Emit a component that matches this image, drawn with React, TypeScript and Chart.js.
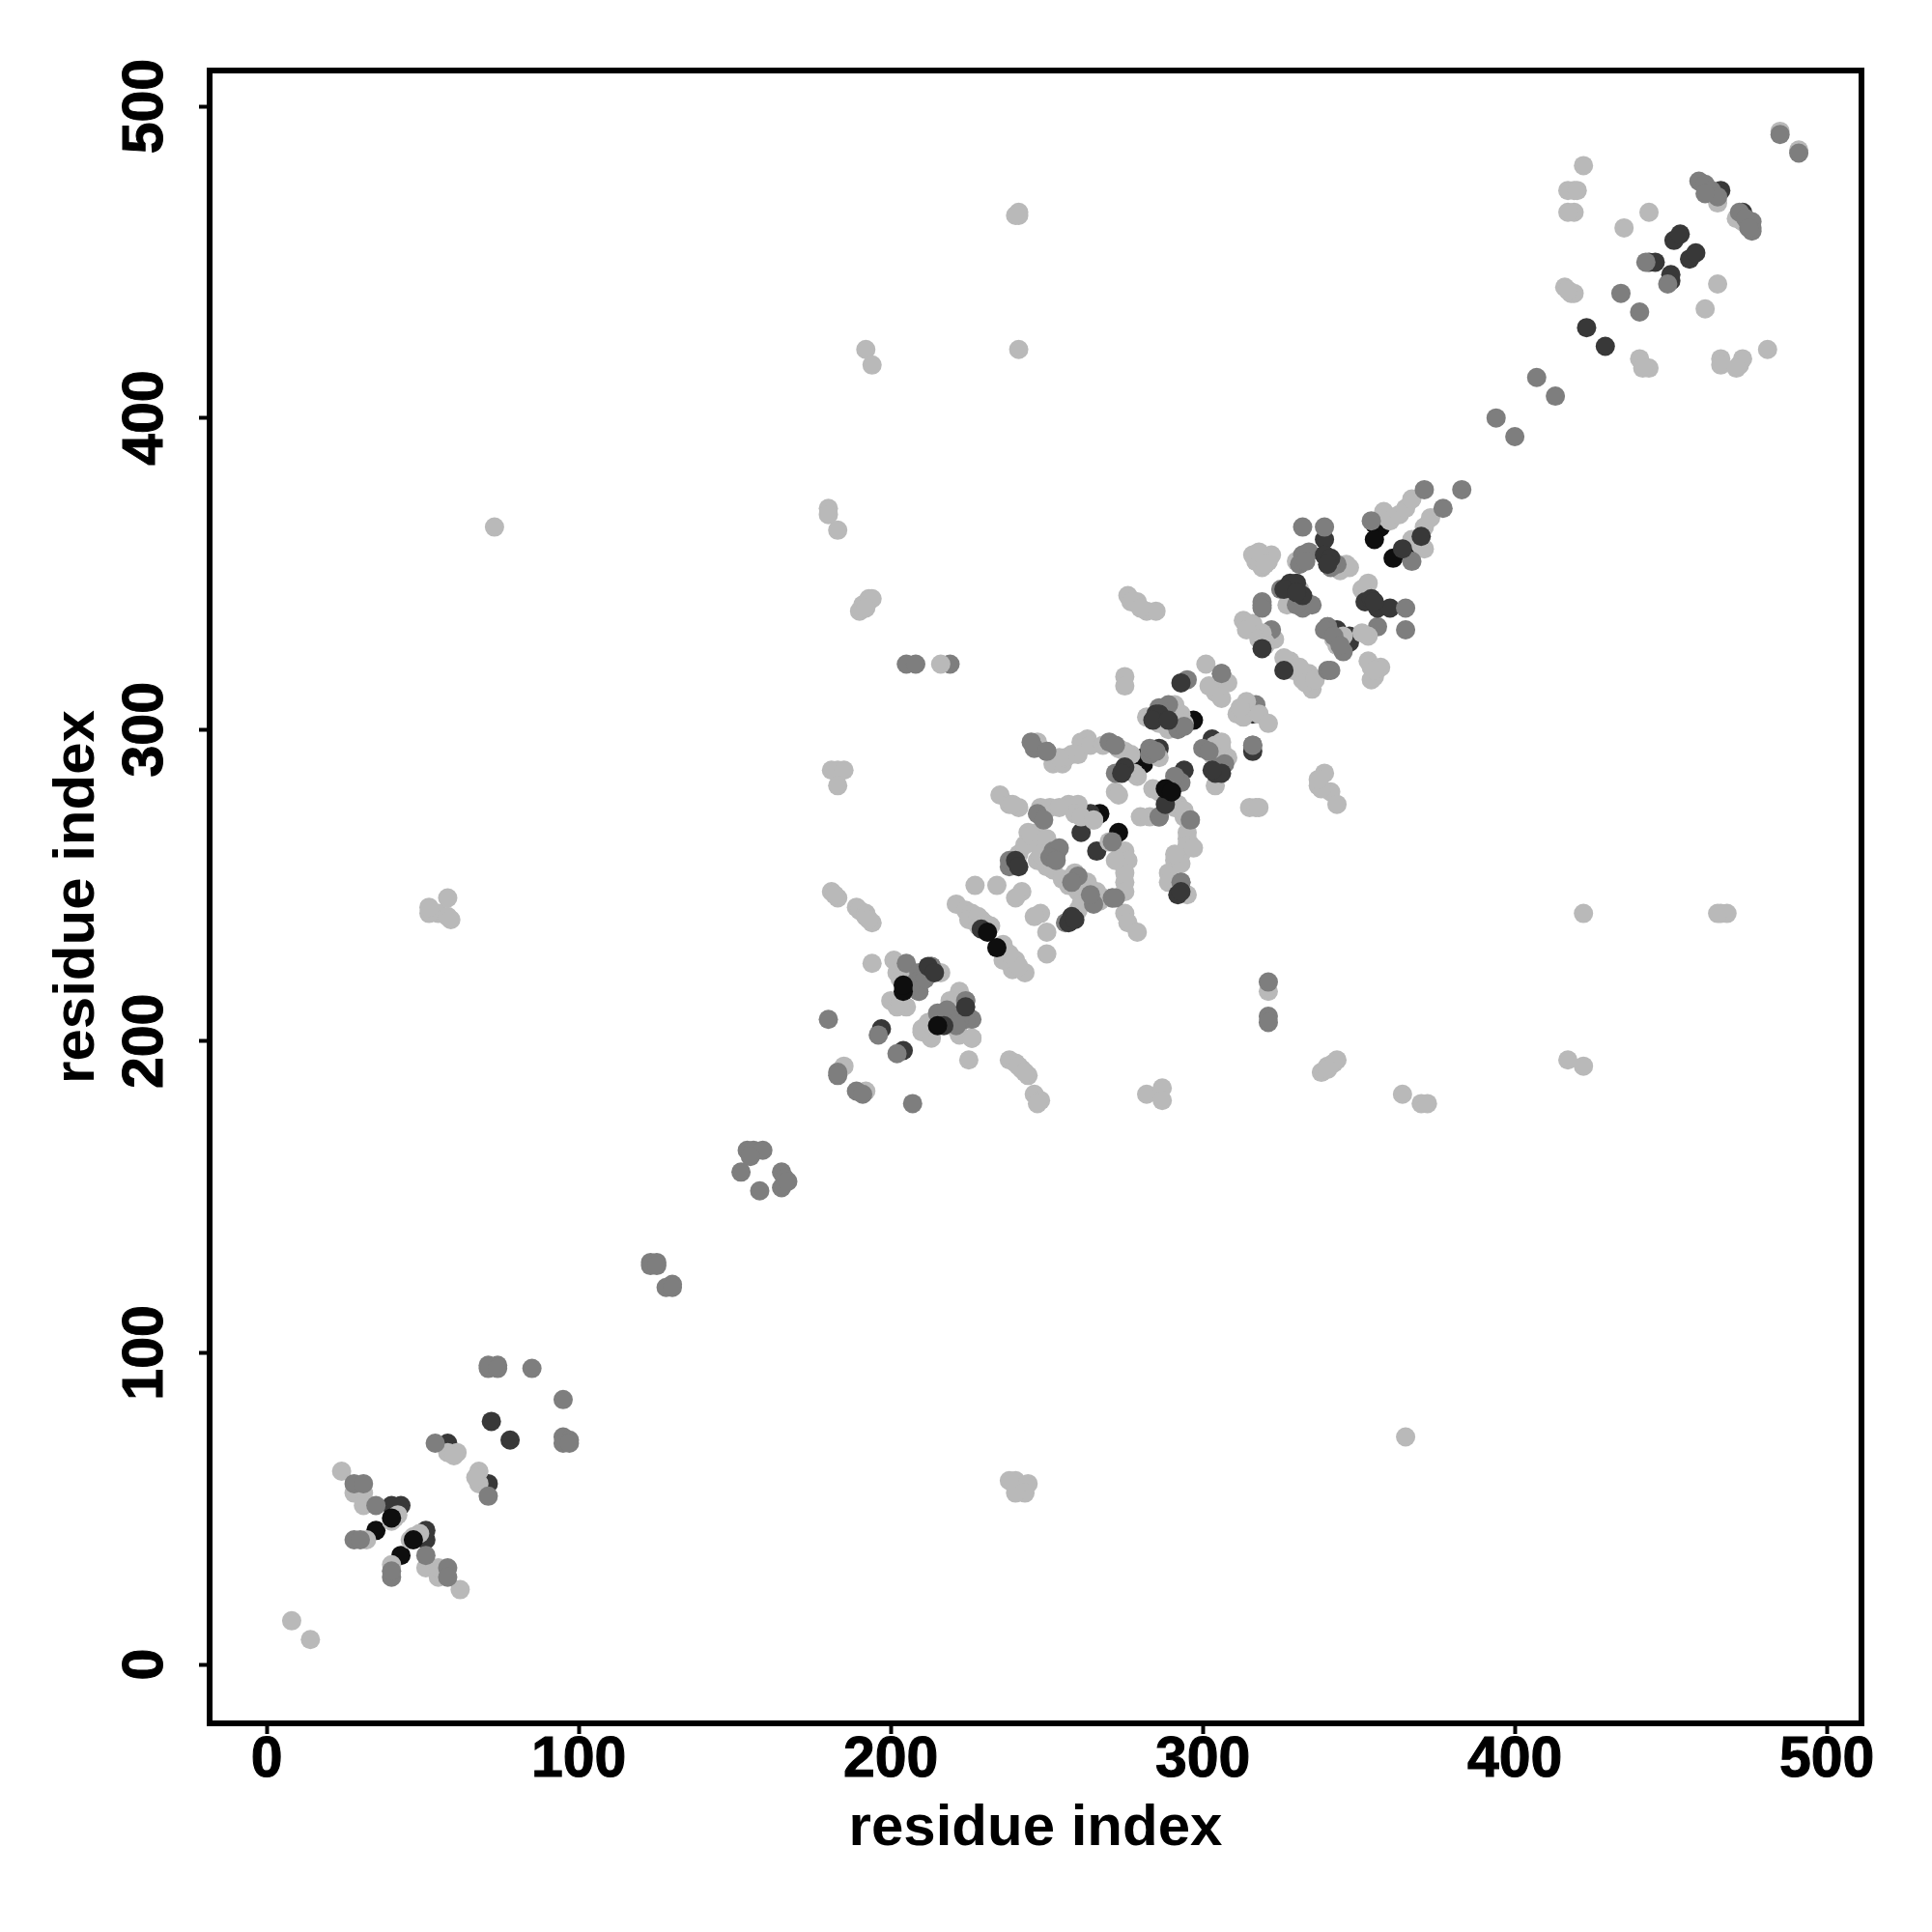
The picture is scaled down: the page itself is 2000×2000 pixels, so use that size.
import React, { useEffect, useRef } from "react";
import { Chart, registerables } from "chart.js";

Chart.register(...registerables);

type P = [number, number];

const tickValues = [0, 100, 200, 300, 400, 500];
const axisTitle = "residue index";
const shadeBlack = "#0e0e0e";
const shadeDark = "#383838";
const shadeMid = "#7e7e7e";
const shadeLight = "#b9b9b9";

const blackUnder: P[] = [[40,47],[47,40],[204,216],[204,218],[215,205],[234,230],[231,235],[288,281],[290,280]];
const darkUnder: P[] = [[229,236],[212,224],[214,222],[217,205],[224,211],[240,258],[241,256],[258,240],[257,238],[259,239],[275,288],[274,286],[319,326],[326,319],[292,247],[293,248],[304,286],[306,286],[303,287],[288,276],[285,305],[286,305],[284,303],[289,303],[328,347],[330,347],[326,345],[332,343],[330,344],[339,356],[341,355],[340,353],[364,358],[370,362],[352,341],[354,342],[355,341]];
const midUnder: P[] = [[28,58],[31,58],[35,51],[28,40],[30,40],[40,28],[40,30],[51,35],[58,31],[58,28],[54,71],[71,54],[71,96],[74,96],[71,95],[74,95],[85,95],[95,85],[95,73],[97,72],[95,71],[97,71],
[123,129],[125,129],[123,128],[125,128],[130,122],[128,121],[130,121],[154,165],[156,165],[159,165],[155,163],[152,158],[158,152],[165,158],[166,156],[165,153],[167,155],
[180,207],[196,202],[202,196],[183,190],[183,189],[189,184],[191,183],[207,180],[205,321],[208,321],
[205,225],[209,222],[208,219],[208,218],[209,216],[211,220],[213,224],[215,209],[218,210],[224,207],[222,207],[221,205],[224,213],[206,217],
[238,256],[238,258],[246,294],[245,296],[250,293],[247,273],[249,271],[252,261],[254,262],[251,259],[253,258],[260,253],[258,251],[265,244],[264,247],[256,238],[271,246],[272,246],[272,286],[270,296],[272,295],[271,264],[283,292],[286,272],[293,251],[292,300],[294,301],[296,271],[293,283],[291,285],
[283,294],[285,293],[289,308],[286,307],[300,294],[302,293],[306,318],[305,288],[307,289],[316,295],[319,341],[319,339],[332,365],[339,365],[332,356],[334,357],[331,353],[333,354],[325,345],[333,341],[332,339],[335,340],[330,340],[340,333],[339,332],[342,330],[345,325],[344,327],[340,319],[341,319],[365,339],[365,332],[354,367],[371,377],[383,377],[377,371],[367,354],[343,353],[341,352],
[485,491],[491,485],[459,476],[461,475],[463,473],[465,471],[461,472],[472,466],[476,463],[476,460],[474,464],[475,461],[442,450],[449,443],[434,440],[440,434],[407,413],[413,407],[394,400],[400,394],[321,219],[321,208],[321,206]];
const lightMain: P[] = [[8,14],[14,8],[24,62],[28,55],[31,55],[31,51],[42,48],[40,46],[41,47],[32,40],[46,40],[49,42],[47,41],[40,32],[51,31],[55,28],[55,31],[62,24],[58,68],[61,68],[60,67],[68,62],[68,58],[67,60],
[181,248],[183,246],[182,247],[189,243],[190,242],[192,241],[194,238],[192,240],[193,239],[194,225],[201,226],[204,223],[202,222],[203,220],[200,213],[202,211],[205,211],[203,212],[185,192],[192,184],[210,203],[213,201],[210,204],[212,206],[222,216],[219,213],[220,207],[222,202],[226,201],[221,204],[225,194],[238,194],[240,193],[244,189],[242,191],[241,192],[243,190],[246,183],[248,181],[247,180],[282,183],[287,185],[287,181],
[227,250],[221,244],[224,242],[226,241],[230,238],[225,239],[229,239],[228,240],[232,237],[228,237],[231,236],[234,250],[242,248],[240,246],[236,231],[240,226],[243,222],[239,223],[236,226],[241,224],[238,228],[250,228],[250,235],[248,241],[246,240],
[247,296],[252,289],[255,289],[258,292],[261,296],[263,297],[260,292],[256,291],[254,291],[264,295],[268,295],[273,294],[275,293],[277,292],[272,280],[273,279],[279,285],[278,286],[280,272],[283,272],[276,292],[273,294],[291,275],[294,272],[292,276],[294,274],[286,280],[284,281],
[235,279],[238,276],[241,275],[239,276],[248,275],[251,275],[257,276],[260,276],[259,273],[261,272],[254,275],[265,271],[247,267],[244,267],[241,260],[243,263],[245,266],[248,263],[250,256],[247,258],[252,255],[250,265],[248,260],
[275,261],[276,258],[275,254],[275,251],[275,248],[272,258],[270,264],[268,246],[266,248],[267,245],[275,241],[276,238],[279,235],[257,250],[262,250],[260,248],[263,245],[261,244],[260,242],[262,247],[255,252],[259,254],[263,251],
[295,265],[296,263],[295,267],[293,260],[291,258],[289,254],[289,251],[293,257],[291,260],[295,263],[297,262],
[183,287],[181,287],[185,287],[183,282],[180,371],[180,369],[183,364],[190,338],[191,340],[193,342],[194,342],[192,339],[276,343],[279,341],[282,338],[285,338],[277,341],[280,339],[275,317],[275,314],[192,422],[194,417],[241,466],[240,465],[241,465],[241,422],[73,365],[55,241],[52,241],[52,243],[58,246],[58,240],[59,239],[365,73],[422,241],[466,241],[468,241],[465,241],[321,216],[338,190],[340,192],[342,193],[343,194],[340,191],[417,194],[422,192],[364,183],[370,180],[372,180],[240,59],[244,58],[243,55],[240,55],[238,59],
[216,321],[282,304],[291,308],[293,305],[294,302],[288,303],[291,303],[289,300],[286,302],[301,321],[308,315],[304,312],[306,310],[305,314],[302,314],[314,309],[311,305],[313,304],[312,307],[318,305],[321,302],[306,294],[308,291],[304,295],[306,296],[303,292],[305,291],[304,282],[286,291],[313,335],[316,334],[319,331],[314,332],[318,329],[320,328],[320,327],[315,275],[317,275],[318,275],[339,286],[337,282],[341,280],[338,281],[343,276],[337,284],
[319,355],[317,354],[321,354],[319,352],[322,356],[316,356],[318,357],[320,353],[330,354],[344,351],[347,352],[353,347],[351,345],[353,330],[351,331],[353,322],[357,320],[355,317],[354,316],[355,319],[328,322],[329,319],[327,320],[334,318],[335,313],[332,316],[331,320],[326,323],[333,315],[336,316],[342,329],[344,328],[345,330],[343,327],[328,343],[329,341],[327,340],[331,345],[358,370],[359,368],[360,367],[363,369],[365,371],[367,374],[370,359],[367,361],[371,365],[373,368],[371,358],
[422,481],[419,473],[417,473],[420,473],[419,466],[417,466],[435,461],[443,466],[485,492],[491,486],[462,473],[465,469],[471,464],[473,463],[465,443],[461,435],[416,442],[418,440],[419,440],[417,441],[440,419],[443,416],[441,416],[466,419],[466,417],[472,417],[473,419],[471,416],[481,422]];
const darkTop: P[] = [[58,71],[71,58],[72,78],[78,72],[51,40],[51,43],[43,51],[40,51],[197,204],[204,197],[266,261],[261,267],[264,273],[293,315],[303,297],[286,294],[294,287],[339,361],[339,356],[356,339],[360,339],[354,342],[343,332],[347,330],[347,328],[466,473],[473,466],[451,457],[453,459],[456,451],[458,453],[443,450],[445,450],[450,444],[450,446],[423,429],[429,423],[316,293],[316,305]];
const midTop: P[] = [[213,224],[224,213],[224,209],[319,340],[322,332],[316,295],[333,341],[356,333],[476,461],[475,463],[296,271],[293,251],[219,321],[250,293],[252,261],[253,260],[271,246],[286,272],[295,316],[208,219],[209,216],[207,222],[340,333],[306,318],[317,308],[226,207]];
const lightTop: P[] = [[216,222],[265,271],[295,247],[354,320],[323,329],[346,353],[226,201],[318,305]];
const blackTop: P[] = [[35,43],[43,35],[267,273],[273,267],[297,303],[281,291],[281,289],[355,366],[357,365],[355,361],[367,357],[361,355]];

const layers: [string, P[]][] = [
  [shadeBlack, blackUnder],
  [shadeDark, darkUnder],
  [shadeMid, midUnder],
  [shadeLight, lightMain],
  [shadeDark, darkTop],
  [shadeMid, midTop],
  [shadeLight, lightTop],
  [shadeBlack, blackTop],
];

const framePlugin = {
  id: "frame",
  afterDraw(chart: any) {
    const { ctx, chartArea: a } = chart;
    ctx.save();
    ctx.strokeStyle = "#000";
    ctx.lineWidth = 6;
    ctx.strokeRect(a.left, a.top, a.right - a.left, a.bottom - a.top);
    ctx.restore();
  },
};

export default function App() {
  const ref = useRef<HTMLCanvasElement>(null);
  useEffect(() => {
    const tickFont = { family: "'Liberation Sans', Arial, sans-serif", size: 59, weight: "bold" as const };
    const titleFont = { family: "'Liberation Sans', Arial, sans-serif", size: 60, weight: "bold" as const };
    const chart = new Chart(ref.current!, {
      type: "scatter",
      data: {
        datasets: layers.map(([c, pts]) => ({
          data: pts.map(([x, y]) => ({ x, y })),
          backgroundColor: c,
          borderWidth: 0,
          pointRadius: 10,
          pointHoverRadius: 10,
        })),
      },
      options: {
        animation: false,
        responsive: false,
        events: [],
        layout: { padding: { top: 73, right: 73, left: 0, bottom: 0 } },
        plugins: { legend: { display: false }, title: { display: false }, tooltip: { enabled: false } },
        scales: {
          x: {
            type: "linear",
            min: -18.3,
            max: 511.1,
            afterFit: (s: any) => { s.height = 216; },
            afterBuildTicks: (s: any) => { s.ticks = tickValues.map((value) => ({ value })); },
            grid: { drawOnChartArea: false, drawTicks: true, tickLength: 11, tickWidth: 4, tickColor: "#000" },
            border: { display: false },
            ticks: { color: "#000", font: tickFont, padding: -8, maxRotation: 0, autoSkip: false, textStrokeColor: "#000", textStrokeWidth: 1 },
            title: { display: true, text: axisTitle, color: "#000", font: titleFont, padding: { top: 0, bottom: 71 } },
          },
          y: {
            type: "linear",
            min: -18.9,
            max: 511.5,
            afterFit: (s: any) => { s.width = 217; },
            afterBuildTicks: (s: any) => { s.ticks = tickValues.map((value) => ({ value })); },
            grid: { drawOnChartArea: false, drawTicks: true, tickLength: 11, tickWidth: 4, tickColor: "#000" },
            border: { display: false },
            ticks: { color: "#000", font: tickFont, padding: 5, minRotation: 90, maxRotation: 90, crossAlign: "center", autoSkip: false, textStrokeColor: "#000", textStrokeWidth: 1 },
            title: { display: true, text: axisTitle, color: "#000", font: titleFont, padding: { top: 44, bottom: 0 } },
          },
        },
      },
      plugins: [framePlugin],
    } as any);
    return () => chart.destroy();
  }, []);
  return (
    <canvas
      ref={ref}
      width={2000}
      height={2000}
      style={{ position: "absolute", left: 0, top: 0, width: 2000, height: 2000, display: "block", background: "#fff" }}
    />
  );
}
